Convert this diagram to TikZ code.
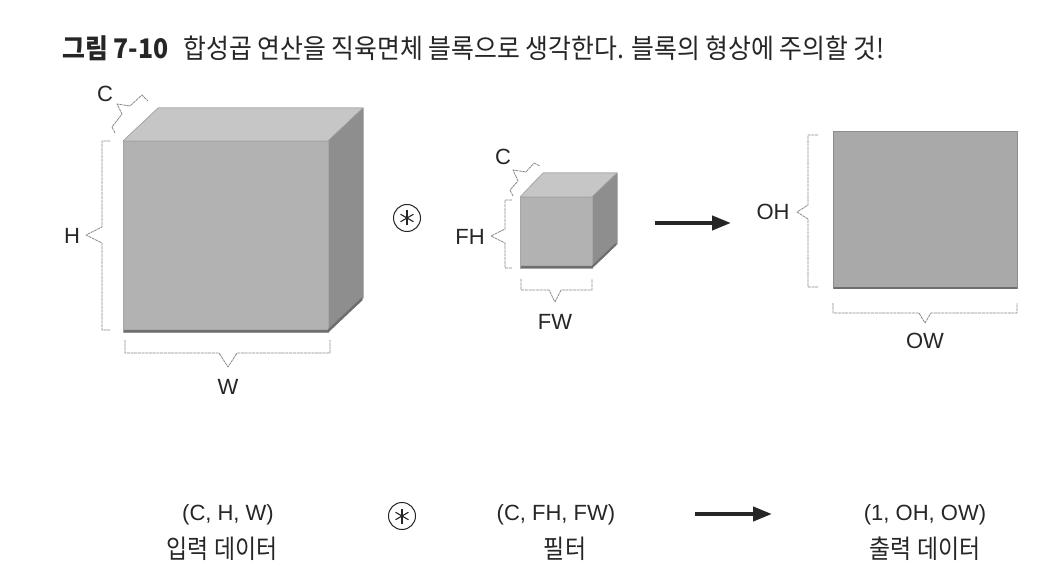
\documentclass[tikz,border=0pt]{standalone}
\usepackage{fontspec}
\usetikzlibrary{arrows.meta,calc}
\newfontfamily\krfont[FakeStretch=0.92]{Noto Sans CJK KR}
\newfontfamily\krbody[FakeStretch=0.88]{Noto Sans CJK KR}
\newfontfamily\labfont{Liberation Sans}
\definecolor{frontc}{HTML}{B2B2B2}
\definecolor{topc}{HTML}{C6C6C6}
\definecolor{sidec}{HTML}{8E8E8E}
\definecolor{edgec}{HTML}{6E6E6E}
\definecolor{brkc}{HTML}{8A8A8A}
\definecolor{outc}{HTML}{A9A9A9}
\tikzset{
  front/.style={fill=frontc, draw=black!35, line width=0.5pt},
  topf/.style={fill=topc, draw=black!35, line width=0.5pt, line join=round},
  sidef/.style={fill=sidec, draw=black!45, line width=0.5pt, line join=round},
  bottomedge/.style={draw=edgec, line width=2.5pt},
  brk/.style={draw=brkc, line width=0.8pt, dash pattern=on 3pt off 0.7pt, line join=round},
  lbl/.style={font=\labfont\fontsize{22}{24}\selectfont, text=black!85, inner sep=0pt},
  krlbl/.style={font=\krbody\fontsize{26}{28}\selectfont, text=black!85, inner sep=0pt},
  bigarrow/.style={draw=black!85, line width=4pt, -{Triangle[length=19pt,width=14pt]}},
  convop/.style={circle, draw=black!85, line width=1pt, minimum size=27pt, inner sep=0pt}
}
\newcommand{\astk}[1]{%
  \foreach \a in {90,30,150}{\draw[line width=1.1pt, black!85] ($(#1)+(\a:7.5)$) -- ($(#1)+(\a+180:7.5)$);}}
\begin{document}
\begin{tikzpicture}[x=1pt,y=-1pt]
\useasboundingbox (0,0) rectangle (1042,588);
\fill[white] (0,0) rectangle (1042,588);

% title
\node[anchor=west, inner sep=0pt, text=black!85] (title) at (62,48)
  {\krfont\fontsize{27}{29}\selectfont{\bfseries 그림 7-10}\hspace{15pt}합성곱 연산을 직육면체 블록으로 생각한다. 블록의 형상에 주의할 것!};

% ---- input cube ----
\fill[topf] (123,141) -- (158,108) -- (363,108) -- (328,141) -- cycle;
\fill[sidef] (328,141) -- (363,108) -- (363,298) -- (328,332) -- cycle;
\draw[topf,fill=none] (123,141) -- (158,108) -- (363,108) -- (328,141);
\draw[sidef,fill=none] (363,108) -- (363,298) -- (328,332);
\filldraw[front] (123,141) rectangle (328,332);
\draw[bottomedge] (124,331) -- (328,331) -- (362,299);

% C bracket (input)
\draw[brk] (115,133) -- (112,127) -- (122,114) -- (117,104) -- (130,106) -- (142,95) -- (148,101);
\node[lbl] (cin) at (105,94) {C};
% H bracket
\draw[brk] (110,141) -- (102,141) -- (102,227) -- (86,235) -- (102,243) -- (102,330) -- (110,330);
\node[lbl] (hin) at (72,236) {H};
% W bracket
\draw[brk] (125,340) -- (125,353) -- (219,353) -- (228,367) -- (237,353) -- (330,353) -- (330,340);
\node[lbl] (win) at (228,387) {W};

% conv operator (top)
\node[convop] (op1) at (407,218) {};
\astk{op1}

% ---- filter cube ----
\fill[topf] (520,197) -- (543,173) -- (617,173) -- (592,197) -- cycle;
\fill[sidef] (592,197) -- (617,173) -- (617,244) -- (592,268) -- cycle;
\draw[topf,fill=none] (520,197) -- (543,173) -- (617,173) -- (592,197);
\draw[sidef,fill=none] (617,173) -- (617,244) -- (592,268);
\filldraw[front] (520,197) rectangle (592,268);
\draw[bottomedge, line width=2pt] (521,267) -- (592,267) -- (616,244);

% C bracket (filter)
\draw[brk] (513,196) -- (510,190) -- (518,181) -- (513,170) -- (526,172) -- (534,163) -- (540,166);
\node[lbl] (cf) at (503,157) {C};
% FH bracket
\draw[brk] (512,200) -- (505,200) -- (505,229) -- (491,236) -- (505,243) -- (505,268) -- (512,268);
\node[lbl] (fh) at (470,237) {FH};
% FW bracket
\draw[brk] (521,279) -- (521,290) -- (549,290) -- (555,302) -- (561,290) -- (592,290) -- (592,279);
\node[lbl] (fw) at (555,322) {FW};

% arrow (top)
\coordinate (a1s) at (655,223);
\coordinate (a1e) at (731,223);
\draw[bigarrow] (a1s) -- (a1e);

% ---- output ----
\filldraw[fill=outc, draw=black!45, line width=1pt] (833,132) rectangle (1017,289);
\draw[bottomedge, line width=2pt] (834,288) -- (1017,288);
% OH bracket
\draw[brk] (818,135) -- (808,135) -- (808,205) -- (797,212) -- (808,219) -- (808,287) -- (818,287);
\node[lbl] (oh) at (773,212) {OH};
% OW bracket
\draw[brk] (833,303) -- (833,313) -- (919,313) -- (925,323) -- (931,313) -- (1017,313) -- (1017,303);
\node[lbl] (ow) at (925,341) {OW};

% ---- bottom row ----
\node[lbl] (s1) at (228,515) {(C, H, W)};
\node[krlbl] (k1) at (222,549) {입력 데이터};
\node[convop] (op2) at (402,516) {};
\astk{op2}
\node[lbl] (s2) at (556,515) {(C, FH, FW)};
\node[krlbl] (k2) at (565,549) {필터};
\coordinate (a2s) at (695,514);
\coordinate (a2e) at (772,514);
\draw[bigarrow] (a2s) -- (a2e);
\node[lbl] (s3) at (925,515) {(1, OH, OW)};
\node[krlbl] (k3) at (925,549) {출력 데이터};
\end{tikzpicture}
\end{document}
